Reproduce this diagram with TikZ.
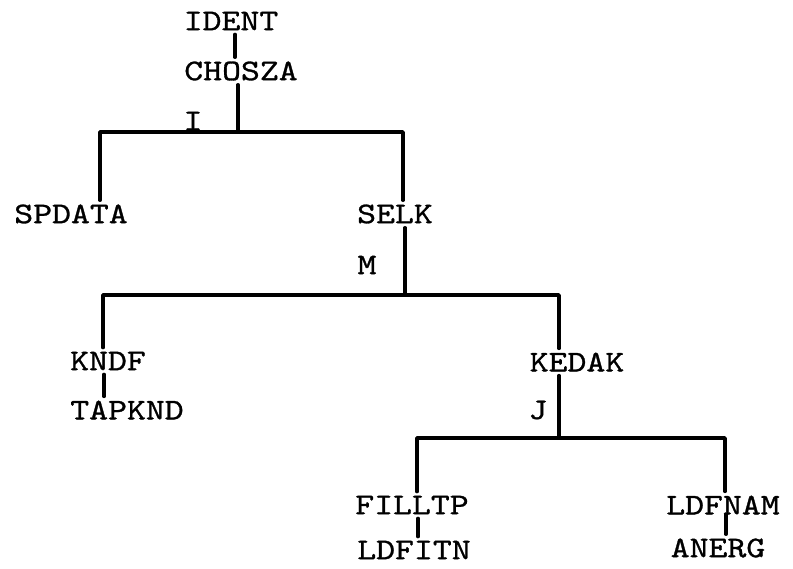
\documentclass[tikz,border=0pt]{standalone}
\usepackage{fontspec}
\usepackage{tikz}
\usetikzlibrary{calc}
\newfontfamily\tw{lmmono10-regular.otf}[FakeStretch=1.2,FakeBold=1]
\tikzset{
  word/.style={inner sep=4pt,font=\tw\fontsize{30}{32}\selectfont},
  lbl/.style={word},
  ln/.style={line width=3.4pt,line join=round,line cap=round},
}
\begin{document}
\begin{tikzpicture}[x=1pt,y=-1pt]
  \useasboundingbox (0,0) rectangle (793,568);
  % names
  \node[word] (ident)  at (231,21)  {IDENT};
  \node[word] (chosza) at (241,71)  {CHOSZA};
  \node[word] (spdata) at (71,214)  {SPDATA};
  \node[word] (selk)   at (395,214) {SELK};
  \node[word] (kndf)   at (108,361) {KNDF};
  \node[word] (tapknd) at (127,410) {TAPKND};
  \node[word] (kedak)  at (577,362) {KEDAK};
  \node[word] (filltp) at (412,505) {FILLTP};
  \node[word] (ldfitn) at (414,550) {LDFITN};
  \node[word] (ldfnam) at (723,505) {LDFNAM};
  \node[word] (anerg)  at (718,548) {ANERG};
  % loop indices
  \node[lbl] (lbli) at (193,121) {I};
  \node[lbl] (lblm) at (367,265) {M};
  \node[lbl] (lblj) at (538,410) {J};
  % junctions
  \coordinate (j1) at (238,132);
  \coordinate (j2) at (405,295);
  \coordinate (j3) at (559,438);
  \draw[ln] ([xshift=4pt]ident.south) -- ([xshift=-6pt]chosza.north);
  \draw[ln] (chosza.south -| j1) -- (j1);
  \draw[ln] ([xshift=29pt]spdata.north) |- (j1) -| ([xshift=8pt]selk.north);
  \draw[ln] (selk.south -| j2) -- (j2);
  \draw[ln] ([xshift=-5pt]kndf.north) |- (j2) -| ([xshift=-18pt]kedak.north);
  \draw[ln] ([xshift=-4pt]kndf.south) -- ([xshift=-4pt]kndf.south |- tapknd.north);
  \draw[ln] (kedak.south -| j3) -- (j3);
  \draw[ln] ([xshift=5pt]filltp.north) |- (j3) -| ([xshift=2pt]ldfnam.north);
  \draw[ln] ([xshift=6pt]filltp.south) -- ([xshift=6pt]filltp.south |- ldfitn.north);
  \draw[ln,shorten <=-4pt] ([xshift=3pt]ldfnam.south) -- ([xshift=3pt]ldfnam.south |- anerg.north);
\end{tikzpicture}
\end{document}
